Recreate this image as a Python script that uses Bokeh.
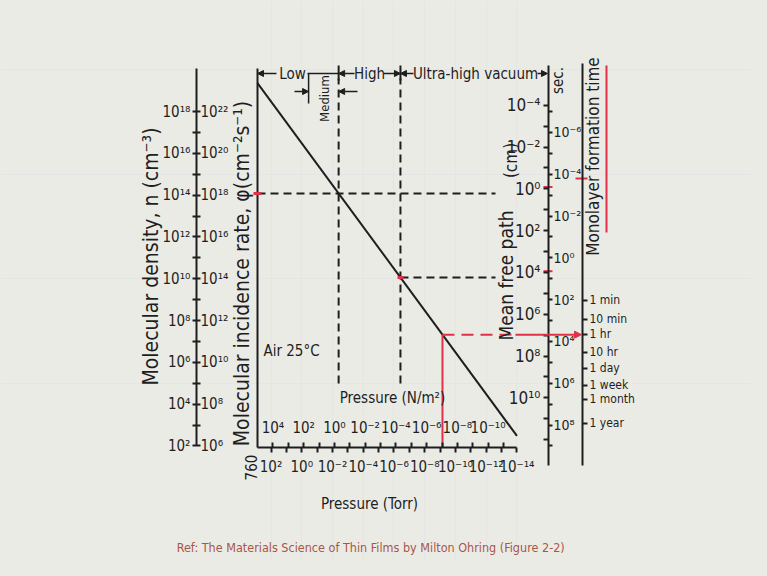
import numpy as np
from bokeh.plotting import figure
from bokeh.models import Range1d, LinearAxis, FixedTicker, Arrow, NormalHead, Label
from bokeh.embed import file_html
from bokeh.resources import INLINE

# ---------------- values ----------------
line_pressure_torr = [760.0, 1e-14]          # ends of the diagonal
line_density_cm3 = [2.3e19, 3.0e2]           # molecular density along it

range_names = ["Low", "Medium", "High", "Ultra-high vacuum"]
range_bounds_torr = [0.36, 4.0e-3, 3.8e-7]   # Low|Medium, Medium|High, High|UHV
marked_pressure_torr = 7.0e-10               # red hand annotation

torr_tick_exp = list(range(2, -15, -1))
torr_label_exp = [2, 0, -2, -4, -6, -8, -10, -12, -14]
pa_tick_exp = list(range(4, -12, -1))
pa_label_exp = [4, 2, 0, -2, -4, -6, -8, -10]
n_tick_exp = list(range(2, 19))
n_label_exp = [2, 4, 6, 8, 10, 12, 14, 16, 18]
phi_label_exp = [6, 8, 10, 12, 14, 16, 18, 20, 22]
mfp_tick_exp = list(range(-4, 13))
mfp_label_exp = [-4, -2, 0, 2, 4, 6, 8, 10]
sec_tick_exp = list(range(-7, 10))
sec_label_exp = [-6, -4, -2, 0, 2, 4, 6, 8]
time_names = ["1 min", "10 min", "1 hr", "10 hr", "1 day", "1 week", "1 month", "1 year"]
# where each of these marks sits on the chart's seconds scale, as drawn
time_mark_sec = [105, 850, 4500, 3.3e4, 1.9e5, 1.25e6, 5.8e6, 8.3e7]
red_mark_sec = 10 ** -3.8

torr_to_pa = 133.3
phi_over_n = 1.0e4          # cm/s
mfp_times_n = 10 ** 14.3    # cm * cm^-3
tau_times_n = 10 ** 11.0    # s * cm^-3

# ---------------- layout / style ----------------
W, H, PAD = 751, 560, 0
X760, SX = 257.0, 15.37
Y18, SY = 111.0, 20.9
L760 = np.log10(760.0)
BG = "#ebebe6"
INK = "#1e1e1e"
RED = "#e23048"
FOOT = "#a85646"
FONT = "'Liberation Sans Narrow', 'DejaVu Sans Condensed', sans-serif"


def xd(X):
    return L760 - (X - X760) / SX


def yd(Y):
    return 18.0 - (Y - Y18) / SY


SUP = str.maketrans("0123456789-", "⁰¹²³⁴⁵⁶⁷⁸⁹⁻")


def p10(e):
    return "10" + str(e).translate(SUP)


x0, x1 = xd(PAD), xd(PAD + W)
y0, y1 = yd(PAD + H), yd(PAD)

p = figure(width=W, height=H, x_range=Range1d(x0, x1), y_range=Range1d(y0, y1),
           output_backend="svg", toolbar_location=None,
           x_axis_location=None, y_axis_location=None, min_border=0,
           background_fill_color=BG, border_fill_color=BG, outline_line_color=None)

LPA = np.log10(torr_to_pa)
LPHI = np.log10(phi_over_n)
LMFP = np.log10(mfp_times_n)
LTAU = np.log10(tau_times_n)
p.extra_x_ranges = {"pa": Range1d(x0 + LPA, x1 + LPA)}
p.extra_y_ranges = {"phi": Range1d(y0 + LPHI, y1 + LPHI),
                    "mfp": Range1d(LMFP - y0, LMFP - y1),
                    "sec": Range1d(LTAU - y0, LTAU - y1)}


def add_axis(side, loc, ticks, labels, rng=None, bounds=None, t_in=0, t_out=5,
             size="15px", standoff=3, line=True, tick=True):
    kw = {}
    if rng:
        kw["x_range_name" if side in ("above", "below") else "y_range_name"] = rng
    ax = LinearAxis(fixed_location=loc, ticker=FixedTicker(ticks=list(ticks)), **kw)
    ax.major_label_overrides = {t: labels.get(t, "") for t in ticks}
    ax.axis_line_color = INK if line else None
    ax.axis_line_width = 2
    ax.major_tick_line_color = INK if tick else None
    ax.major_tick_line_width = 2
    ax.major_tick_in = t_in
    ax.major_tick_out = t_out
    ax.minor_tick_line_color = None
    ax.major_label_text_font = FONT
    ax.major_label_text_font_size = size
    ax.major_label_text_color = INK
    ax.major_label_standoff = standoff
    if bounds is not None:
        ax.bounds = (min(bounds), max(bounds))
    p.add_layout(ax, side)
    return ax


# molecular density (left labels) and incidence rate (right labels)
add_axis("left", xd(196), n_tick_exp, {e: p10(e) for e in n_label_exp},
         bounds=(2, yd(68)), t_in=4, t_out=4, standoff=2)
add_axis("right", xd(196), phi_label_exp, {e: p10(e) for e in phi_label_exp},
         rng="phi", line=False, tick=False, t_in=0, t_out=0, standoff=4)
# pressure axes
add_axis("below", yd(447), torr_tick_exp, {e: p10(e) for e in torr_label_exp},
         bounds=(-14, L760), t_out=5, standoff=5)
add_axis("above", yd(447), pa_tick_exp, {e: p10(e) for e in pa_label_exp},
         rng="pa", bounds=(-14 + LPA, L760 + LPA), line=False, t_out=5, standoff=6)
# mean free path (left labels) and monolayer time in sec (right labels)
add_axis("left", xd(548), mfp_tick_exp, {e: p10(e) for e in mfp_label_exp},
         rng="mfp", bounds=(LMFP - yd(465), LMFP - yd(65)), t_out=5, size="17px", standoff=3)
add_axis("right", xd(548), sec_tick_exp, {e: p10(e) for e in sec_label_exp},
         rng="sec", line=False, t_out=4, size="14px", standoff=1)
tt = [float(np.log10(s)) for s in time_mark_sec]
add_axis("right", xd(582), tt, dict(zip(tt, time_names)),
         rng="sec", bounds=(LTAU - yd(465), LTAU - yd(63)), t_out=5, size="12px", standoff=2)

# frame left edge (760 Torr)
p.line([L760, L760], [yd(447), yd(68)], color=INK, line_width=2)

# diagonal
lp = np.log10(line_pressure_torr)
ln = np.log10(line_density_cm3)
p.line(lp, ln, color=INK, line_width=2)


def n_at(P):
    return float(np.interp(np.log10(P), lp[::-1], ln[::-1]))


b1, b2, b3 = [float(np.log10(b)) for b in range_bounds_torr]
# dashed guides
for b in (b2, b3):
    p.line([b, b], [yd(383), yd(78)], color=INK, line_width=2, line_dash="8 5")
p.line([L760, xd(495)], [n_at(range_bounds_torr[1])] * 2, color=INK, line_width=2, line_dash="8 5")
p.line([b3, xd(495)], [n_at(range_bounds_torr[2])] * 2, color=INK, line_width=2, line_dash="8 5")

# range bar at top
YT = yd(73)
YM = yd(91)


def arrow(xa, xb, y, color=INK, size=6, width=1.5):
    p.add_layout(Arrow(x_start=xa, y_start=y, x_end=xb, y_end=y, line_color=color,
                       line_width=width,
                       end=NormalHead(size=size, fill_color=color, line_color=color)))


arrow(xd(276), L760, YT)
p.line([xd(307), b2], [YT, YT], color=INK, line_width=1.5)
p.line([b1, b1], [YT, yd(103)], color=INK, line_width=1.5)
arrow(xd(354), b2, YT)
arrow(xd(383), b3, YT)
arrow(xd(413), b3, YT)
arrow(xd(537), xd(547), YT)
for b in (b2, b3):
    p.line([b, b], [yd(65), yd(80)], color=INK, line_width=2)
arrow(xd(294), b1, YM)
arrow(xd(357), b2, YM)

# red annotation
pm = float(np.log10(marked_pressure_torr))
nm = n_at(marked_pressure_torr)
p.line([pm, pm], [yd(447), nm], color=RED, line_width=2)
p.line([pm, xd(515)], [nm, nm], color=RED, line_width=2, line_dash="12 7")
arrow(xd(515), xd(581), nm, color=RED, size=7, width=2)
p.line([xd(606), xd(606)], [yd(232), yd(65)], color=RED, line_width=2)
p.line([xd(253), xd(261)], [n_at(range_bounds_torr[1])] * 2, color=RED, line_width=3)
p.line([xd(397), xd(403)], [n_at(range_bounds_torr[2])] * 2, color=RED, line_width=3)
for nv in (n_at(range_bounds_torr[1]), n_at(range_bounds_torr[2])):
    p.line([xd(543), xd(552)], [nv + 0.3, nv + 0.3], color=RED, line_width=2)
ys = LTAU - np.log10(red_mark_sec)
p.line([xd(575), xd(587)], [ys, ys], color=RED, line_width=2)


def label(X, Y, text, size="17px", angle=0.0, color=INK, font=FONT, align="center"):
    p.add_layout(Label(x=xd(X), y=yd(Y), text=text, angle=angle, text_align=align,
                       text_baseline="middle", text_font=font, text_font_size=size,
                       text_color=color))


V = np.pi / 2
label(150, 241, "Molecular   density,   n  (cm⁻³)", size="21px", angle=V)
label(241, 264, "Molecular  incidence  rate,  φ(cm⁻²s⁻¹)", size="21px", angle=V)
label(505, 275, "Mean free path", size="19px", angle=V)
label(510, 160, "(cm)", size="17px", angle=V)
label(592, 156, "Monolayer formation time", size="17px", angle=V)
label(557, 80, "sec.", size="15px", angle=V)
label(324, 98, range_names[1], size="13px", angle=V)
label(292, 73, range_names[0], size="15px")
label(369, 73, range_names[2], size="15px")
label(475, 73, range_names[3], size="15px")
label(291, 350, "Air 25°C", size="15px")
label(392, 397, "Pressure (N/m²)", size="15px")
label(369, 503, "Pressure (Torr)", size="15px")
label(250, 467, "760", size="15px", angle=V)
label(372, 547, "Ref:  The Materials Science of Thin Films by Milton Ohring (Figure 2-2)",
      size="12.5px", color=FOOT)

html = file_html(p, INLINE, title="Vacuum nomogram")
html = html.replace("<body>", '<body style="background:%s;">' % BG)
open("out.html", "w").write(html)
